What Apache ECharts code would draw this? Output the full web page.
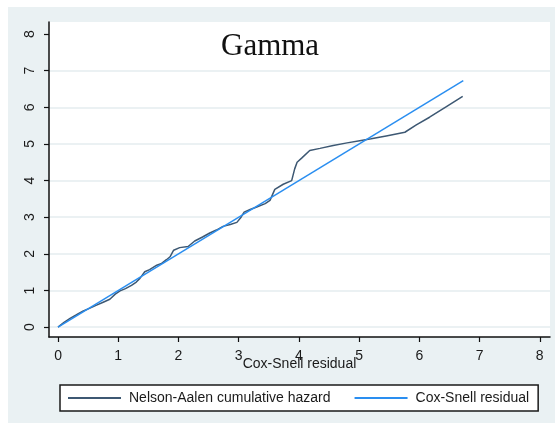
<!DOCTYPE html>
<html>
<head>
<meta charset="utf-8">
<script src="https://cdn.jsdelivr.net/npm/echarts@6/dist/echarts.min.js"></script>
<style>
  html, body { margin: 0; padding: 0; background: #ffffff; }
  #wrap { position: relative; width: 555px; height: 423px; overflow: hidden; }
  #panel { position: absolute; left: 8px; top: 7px; right: 0; bottom: 0; background: #eaf1f3; }
  #chart { position: absolute; left: 0; top: 0; width: 555px; height: 423px; }
</style>
</head>
<body>
<div id="wrap">
  <div id="panel"></div>
  <div id="chart"></div>
</div>
<script>
// Cox-Snell residuals (x) and the Nelson-Aalen cumulative hazard of those residuals (y)
const residuals = [
  0, 0.10, 0.20, 0.30, 0.42, 0.53, 0.64, 0.75, 0.86, 0.95,
  1.03, 1.12, 1.22, 1.30, 1.36, 1.44, 1.52, 1.64, 1.72, 1.80,
  1.86, 1.92, 2.02, 2.16, 2.27, 2.40, 2.52, 2.63, 2.74, 2.86,
  2.97, 3.04, 3.09, 3.19, 3.30, 3.44, 3.52, 3.60, 3.74, 3.88,
  3.93, 3.97, 4.05, 4.18, 4.35, 4.57, 4.80, 5.01, 5.20, 5.45,
  5.76, 5.95, 6.17, 6.45, 6.72
];
const cumHazard = [
  0, 0.13, 0.24, 0.33, 0.44, 0.52, 0.60, 0.68, 0.76, 0.90,
  0.99, 1.05, 1.14, 1.23, 1.33, 1.51, 1.57, 1.69, 1.74, 1.84,
  1.92, 2.10, 2.17, 2.20, 2.35, 2.46, 2.57, 2.65, 2.75, 2.80,
  2.86, 3.00, 3.14, 3.21, 3.28, 3.37, 3.46, 3.76, 3.90, 4.00,
  4.32, 4.50, 4.62, 4.82, 4.88, 4.96, 5.03, 5.09, 5.14, 5.22,
  5.32, 5.52, 5.73, 6.02, 6.30
];
// reference line: Cox-Snell residual against itself
const refX = [0, 6.73];
const refY = [0, 6.73];

const xTicks = [0, 1, 2, 3, 4, 5, 6, 7, 8];
const yTicks = [0, 1, 2, 3, 4, 5, 6, 7, 8];
const yGrid = [0, 1, 2, 3, 4, 5, 6, 7];

const titleText = 'Gamma';
const xName = 'Cox-Snell residual';
const naName = 'Nelson-Aalen cumulative hazard';
const csName = 'Cox-Snell residual';

const zip = (a, b) => a.map((v, i) => [v, b[i]]);

const chart = echarts.init(document.getElementById('chart'), null, { renderer: 'canvas' });
const fontSans = '"Liberation Sans", Arial, sans-serif';

chart.setOption({
  backgroundColor: 'transparent',
  animation: false,
  title: {
    text: titleText,
    left: 221,
    top: 31,
    padding: 0,
    textStyle: {
      fontFamily: '"Liberation Serif", "Times New Roman", serif',
      fontWeight: 'normal',
      fontSize: 31,
      color: '#111111'
    }
  },
  grid: {
    left: 49, right: 5, top: 22, bottom: 86,
    show: true, backgroundColor: '#ffffff', borderWidth: 0,
    containLabel: false
  },
  legend: {
    left: 60,
    top: 385,
    orient: 'horizontal',
    padding: [6, 9, 6, 7],
    itemGap: 23,
    itemWidth: 53,
    itemHeight: 14,
    backgroundColor: '#ffffff',
    borderColor: '#1a1a1a',
    borderWidth: 1.5,
    borderRadius: 0,
    selectedMode: false,
    // line-only keys: hide the marker that sits on the legend line
    itemStyle: { opacity: 0, borderWidth: 0 },
    textStyle: { fontFamily: fontSans, fontSize: 14, color: '#1a1a1a', padding: [0, 0, 0, 3] },
    data: [naName, csName]
  },
  xAxis: {
    type: 'value',
    min: -0.15,
    max: 8.17,
    name: xName,
    nameLocation: 'middle',
    nameGap: 20,
    nameMoveOverlap: false,
    nameTextStyle: { fontFamily: fontSans, fontSize: 14, color: '#1a1a1a' },
    axisLine: { show: true, onZero: false, lineStyle: { color: '#111111', width: 1.5 } },
    axisTick: { show: true, length: 5, customValues: xTicks, lineStyle: { color: '#111111', width: 1.2 } },
    axisLabel: { show: true, customValues: xTicks, margin: 12, fontFamily: fontSans, fontSize: 14, color: '#1a1a1a' },
    splitLine: { show: false }
  },
  yAxis: [
    {
      type: 'value',
      min: -0.27,
      max: 8.33,
      position: 'left',
      axisLine: { show: true, onZero: false, lineStyle: { color: '#111111', width: 1.5 } },
      axisTick: { show: true, length: 5, customValues: yTicks, lineStyle: { color: '#111111', width: 1.2 } },
      axisLabel: { show: true, customValues: yTicks, rotate: 90, margin: 12, fontFamily: fontSans, fontSize: 14, color: '#1a1a1a' },
      splitLine: { show: false }
    },
    {
      type: 'value',
      min: -0.27,
      max: 8.33,
      position: 'left',
      axisLine: { show: false },
      axisTick: { show: false, customValues: yGrid },
      axisLabel: { show: false, customValues: yGrid },
      splitLine: { show: true, lineStyle: { color: '#e4ecef', width: 1.5 } }
    }
  ],
  series: [
    {
      name: naName,
      type: 'line',
      yAxisIndex: 0,
      data: zip(residuals, cumHazard),
      symbol: 'none',
      lineStyle: { color: '#3d5873', width: 1.5 },
      itemStyle: { color: '#3d5873' },
      z: 2
    },
    {
      name: csName,
      type: 'line',
      yAxisIndex: 0,
      data: zip(refX, refY),
      symbol: 'none',
      lineStyle: { color: '#2a8ef0', width: 1.5 },
      itemStyle: { color: '#2a8ef0' },
      z: 3
    }
  ]
});
</script>
</body>
</html>
